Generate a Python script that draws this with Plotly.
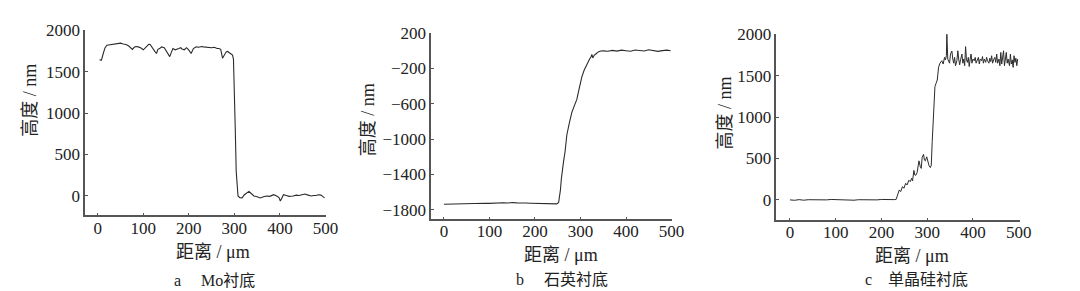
import plotly.graph_objects as go

# ---- Panel a: Mo substrate ----
a_x = [4, 8, 12, 16, 20, 26, 32, 38, 44, 50, 56, 62, 68, 72, 76, 80, 84, 89, 94, 100,
       104, 108, 112, 115, 118, 122, 126, 129, 132, 136, 140, 146, 152, 158, 162, 165, 170,
       174, 178, 182, 185, 190, 195, 200, 205, 210, 216, 222, 228, 232, 238, 244, 250, 256,
       262, 266, 270, 274, 278, 282, 285, 288, 292, 296, 298, 300, 302, 304, 306, 308, 312,
       317, 322, 327, 332, 337, 343, 350, 357, 364, 371, 378, 386, 393, 398, 401, 404, 408,
       414, 420, 429, 436, 442, 448, 455, 462, 469, 474, 479, 485, 490, 494, 498]
a_y = [1643, 1640, 1720, 1790, 1820, 1825, 1830, 1840, 1847, 1845, 1835, 1828, 1810, 1790,
       1770, 1795, 1805, 1800, 1790, 1765, 1790, 1815, 1830, 1828, 1800, 1780, 1740, 1720,
       1770, 1780, 1800, 1790, 1740, 1682, 1740, 1780, 1765, 1770, 1780, 1790, 1775, 1765,
       1790, 1760, 1720, 1780, 1800, 1795, 1805, 1800, 1795, 1790, 1790, 1795, 1780, 1780,
       1770, 1663, 1700, 1740, 1745, 1730, 1720, 1700, 1650, 1300, 800, 300, 80, 0, -20,
       -24, 15, 40, 55, 30, 0, -10, -24, -10, 0, -5, 15, 0, -20, -62, -20, 15, 5, -5, 0,
       10, 5, 15, 24, 10, 0, 5, 5, 15, 10, -5, -24]

# ---- Panel b: quartz substrate ----
b_x = [0, 10, 20, 30, 40, 50, 60, 70, 80, 90, 100, 110, 120, 130, 140, 150, 160, 170, 180,
       190, 200, 210, 220, 230, 240, 248, 252, 254, 256, 258, 260, 263, 266, 270, 275, 281,
       286, 292, 297, 303, 308, 314, 318, 320, 323, 325, 327, 330, 335, 340, 345, 350, 360,
       370, 380, 390, 400, 410, 420, 430, 440, 450, 460, 470, 480, 490, 498]
b_y = [-1740, -1738, -1742, -1736, -1735, -1733, -1735, -1730, -1732, -1728, -1730, -1726,
       -1724, -1722, -1725, -1720, -1724, -1722, -1726, -1728, -1730, -1732, -1730, -1734,
       -1736, -1735, -1720, -1650, -1577, -1450, -1350, -1247, -1150, -954, -830, -698,
       -630, -551, -430, -294, -220, -148, -110, -93, -70, -40, -80, -50, -30, -9, -2, 0,
       -5, 5, -3, 8, 2, -4, 10, 6, -2, 12, 4, -6, 3, 8, 2]

# ---- Panel c: single-crystal silicon substrate ----
c_x = [0, 10, 20, 30, 40, 50, 60, 70, 80, 90, 100, 110, 120, 130, 140, 150, 160, 170, 180,
       190, 200, 210, 220, 228, 232, 236, 239, 242, 246, 249, 253, 256, 260, 263, 266, 268,
       271, 273, 275, 278, 282, 285, 287, 289, 292, 294, 296, 299, 302, 304, 307, 309, 311,
       313, 315, 317, 319, 322, 325, 328, 332, 335, 338, 340, 342, 343, 345, 347, 349, 351,
       354, 356, 358, 360, 362, 365, 367, 369, 371, 373, 376, 378, 380, 382, 384, 386, 388,
       390, 392, 394, 396, 398, 400, 403, 405, 407, 409, 412, 414, 416, 419, 421, 423, 425,
       428, 430, 432, 435, 437, 439, 441, 443, 446, 448, 450, 452, 454, 457, 459, 461, 463,
       465, 467, 469, 471, 473, 475, 477, 480, 482, 484, 486, 488, 490, 492, 494, 496, 498]
c_y = [0, -5, 3, -4, 2, 0, -3, 4, 0, 5, 2, -2, 3, 0, -4, 2, 0, 3, -2, 0, 5, 2, 0, 3, 5, 60,
       120, 100, 160, 140, 200, 180, 237, 220, 260, 230, 355, 300, 296, 330, 471, 400, 380,
       511, 550, 480, 471, 520, 450, 413, 390, 420, 705, 900, 1096, 1368, 1400, 1447, 1602,
       1650, 1680, 1640, 1720, 1690, 1740, 2012, 1700, 1680, 1650, 1760, 1797, 1700, 1650,
       1720, 1620, 1680, 1800, 1700, 1630, 1690, 1760, 1650, 1700, 1620, 1850, 1690, 1660,
       1720, 1610, 1700, 1760, 1650, 1700, 1680, 1720, 1650, 1690, 1720, 1640, 1700, 1680,
       1730, 1650, 1700, 1660, 1720, 1680, 1650, 1710, 1670, 1740, 1650, 1700, 1720, 1660,
       1760, 1650, 1700, 1620, 1780, 1640, 1700, 1800, 1620, 1700, 1780, 1650, 1700, 1620,
       1760, 1640, 1690, 1600, 1740, 1660, 1710, 1620, 1700]

x_ticks = [0, 100, 200, 300, 400, 500]
a_yticks = [0, 500, 1000, 1500, 2000]
b_yticks = [-1800, -1400, -1000, -600, -200, 200]
b_ytext = ["−1800", "−1400", "−1000", "−600", "−200", "200"]
c_yticks = [0, 500, 1000, 1500, 2000]

y_title = "高度 / nm"
x_title = "距离 / μm"
captions = ["a　 Mo衬底", "b　 石英衬底", "c　单晶硅衬底"]

W, H = 1080, 291
FONT = "Liberation Serif"
CJK = "Liberation Serif, Noto Sans CJK SC"
LINE = "#2b2b2b"
AXC = "#555555"
TXT = "#222222"

fig = go.Figure()
fig.add_trace(go.Scatter(x=a_x, y=a_y, mode="lines", line=dict(color=LINE, width=1.1),
                         xaxis="x", yaxis="y", showlegend=False))
fig.add_trace(go.Scatter(x=b_x, y=b_y, mode="lines", line=dict(color=LINE, width=1.1),
                         xaxis="x2", yaxis="y2", showlegend=False))
fig.add_trace(go.Scatter(x=c_x, y=c_y, mode="lines", line=dict(color=LINE, width=1.0),
                         xaxis="x3", yaxis="y3", showlegend=False))


def px2x(p):
    return p / W


def px2y(p):
    return 1 - p / H


panels = [
    (86, 330, 22, 213, [-28, 502], [-235, 2000], a_yticks, None),
    (436, 680, 25, 217, [-28, 502], [-1910, 200], b_yticks, b_ytext),
    (785, 1031, 26, 218, [-30, 502], [-246, 2000], c_yticks, None),
]

axis_common = dict(showgrid=False, zeroline=False, showline=True, linecolor=AXC,
                   linewidth=1.5, ticks="inside", ticklen=3, tickwidth=1.2,
                   tickcolor=AXC, mirror=False,
                   tickfont=dict(family=FONT, size=17, color=TXT))

layout = dict(width=W, height=H, margin=dict(l=0, r=0, t=0, b=0),
              paper_bgcolor="white", plot_bgcolor="white", showlegend=False,
              font=dict(family=FONT, color=TXT))

for i, (xl, xr, yt, yb, xr_, yr_, yt_, ytxt) in enumerate(panels):
    sfx = "" if i == 0 else str(i + 1)
    layout["xaxis" + sfx] = dict(axis_common, domain=[px2x(xl), px2x(xr)], range=xr_,
                                 tickvals=x_ticks, anchor="y" + sfx,
                                 ticklabelstandoff=-4)
    yax = dict(axis_common, domain=[px2y(yb), px2y(yt)], range=yr_,
               tickvals=yt_, anchor="x" + sfx)
    if ytxt is not None:
        yax["ticktext"] = ytxt
    layout["yaxis" + sfx] = yax

fig.update_layout(**layout)

ann = []
ytitle_pos = [(30, 94), (373, 114), (733, 107)]
xtitle_pos = [(215, 251), (567, 254), (922, 255)]
cap_pos = [(217, 280), (568, 279), (927, 279)]
for i in range(3):
    ann.append(dict(text=y_title, x=px2x(ytitle_pos[i][0]), y=px2y(ytitle_pos[i][1]),
                    xref="paper", yref="paper", showarrow=False, textangle=-90,
                    font=dict(family=CJK, size=18, color=TXT),
                    xanchor="center", yanchor="middle"))
    ann.append(dict(text=x_title, x=px2x(xtitle_pos[i][0]), y=px2y(xtitle_pos[i][1]),
                    xref="paper", yref="paper", showarrow=False,
                    font=dict(family=CJK, size=18, color=TXT),
                    xanchor="center", yanchor="middle"))
    ann.append(dict(text=captions[i], x=px2x(cap_pos[i][0]), y=px2y(cap_pos[i][1]),
                    xref="paper", yref="paper", showarrow=False,
                    font=dict(family=CJK, size=16, color=TXT),
                    xanchor="center", yanchor="middle"))
fig.update_layout(annotations=ann)

fig.write_html("out.html")
